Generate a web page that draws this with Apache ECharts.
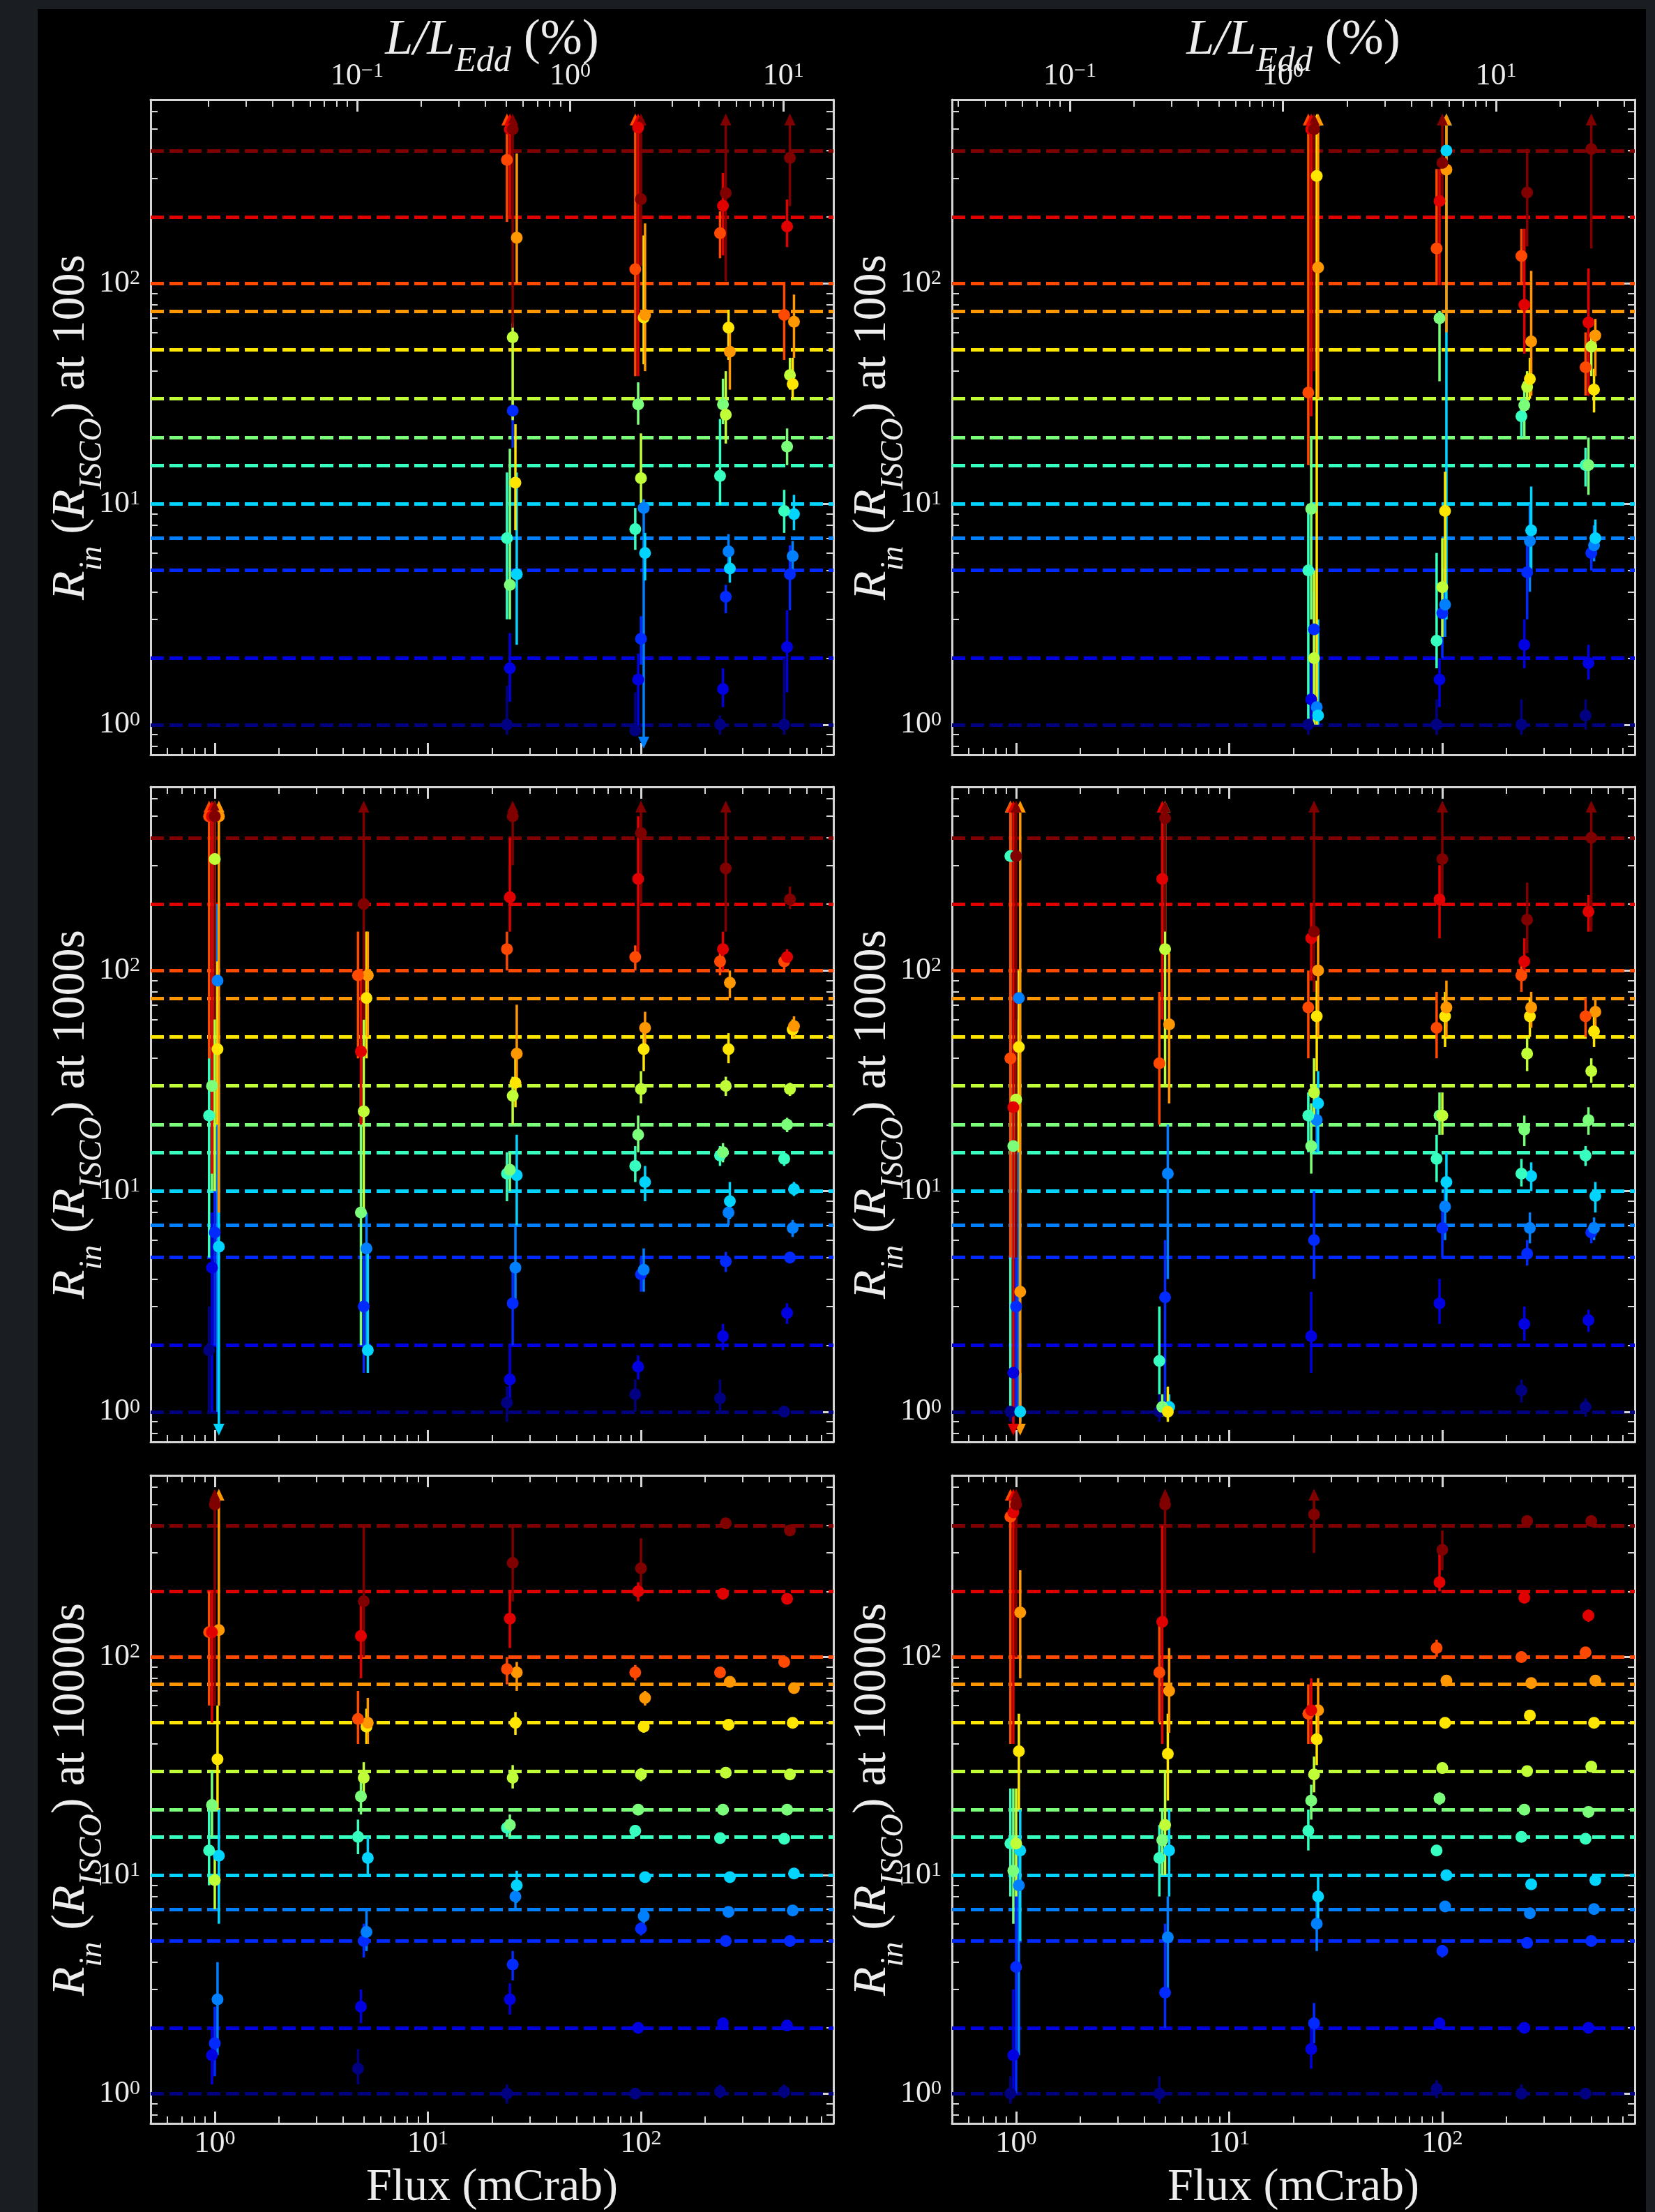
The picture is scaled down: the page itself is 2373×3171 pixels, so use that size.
<!DOCTYPE html>
<html>
<head>
<meta charset="utf-8">
<title>Rin recovery vs flux</title>
<script src="https://cdn.jsdelivr.net/npm/echarts@6/dist/echarts.min.js"></script>
<style>
  html, body { margin: 0; padding: 0; background: #1a1d22; }
  #fig { position: absolute; left: 54px; top: 13px; width: 2306px; height: 3158px; background: #000; }
  #main { position: absolute; left: 0; top: 0; width: 2373px; height: 3171px; }
</style>
</head>
<body>
<div id="fig"></div>
<div id="main"></div>
<script>
// true inner radius of each simulated set (one colour each) and the simulated fluxes
var truths = [1, 2, 5, 7, 10, 15, 20, 30, 50, 75, 100, 200, 400];
var fluxes = [1, 5, 25, 100, 250, 500];          // mCrab
var exposures = ['100s', '1000s', '10000s'];
// small horizontal dodge of the sets so the error bars do not sit on top of each other
var xDodge = [0.94, 0.97, 1.0, 1.03, 1.045];
// L/LEdd (%) per mCrab for the two sources (top axis)
var lEddPerMcrab = [0.02148, 0.05596];

var _ = null;
// rows follow `truths`, columns follow `fluxes`
var rin100L = [
  [_, _, 1.0, 0.94, 1.0, 1.0], [_, _, 1.8, 1.6, 1.45, 2.25], [_, _, 26.5, 2.45, 3.8, 4.8],
  [_, _, _, 9.6, 6.1, 5.8], [_, _, 4.8, 6.0, 5.1, 9.0], [_, _, 7.0, 7.7, 13.4, 9.3],
  [_, _, 4.3, 28.3, 28.3, 18.2], [_, _, 57, 13.1, 25.4, 38.4], [_, _, 12.5, 70, 63, 35],
  [_, _, 161, 72, 49, 67], [_, _, 363, 116, 169, 72], [_, _, 500, 508, 225, 181],
  [_, _, 500, 241, 257, 371]];
var lo100L = [
  [_, _, 0.9, 0.9, 0.9, 0.9], [_, _, 1.27, 0.9, 1.2, 1.4], [_, _, 18, 1.87, 3.2, 3.3],
  [_, _, _, 0.85, 5.3, 5.0], [_, _, 2.3, 4.5, 4.4, 7.6], [_, _, 3.0, 6.2, 9.9, 7.4],
  [_, _, 3.0, 22.9, 23, 15], [_, _, 24, 10.1, 18.8, 33], [_, _, 7.6, 43, 45, 30],
  [_, _, 100, 40, 33, 46], [_, _, 190, 38, 130, 45], [_, _, 196, 38, 134, 146],
  [_, _, 63, 120, 102, 224]];
var hi100L = [
  [_, _, 1.5, 1.4, 1.1, 2.0], [_, _, 2.6, 2.1, 1.8, 3.3], [_, _, 30, 3.1, 4.3, 6.5],
  [_, _, _, 10.5, 7.3, 6.8], [_, _, 13.9, 7.4, 6.1, 11], [_, _, 13.9, 9.6, 24.3, 11.6],
  [_, _, 17.8, 35.6, 37, 22], [_, _, 66, 20.9, 40, 46], [_, _, 23, 165, 76, 46],
  [_, _, 388, 187, 63, 89], [_, _, 540, 540, 212, 101], [_, _, 540, 540, 317, 240],
  [_, _, 540, 540, 540, 540]];

var rin100R = [
  [_, _, 1.0, 1.0, 1.0, 1.1], [_, _, 1.3, 1.6, 2.3, 1.9], [_, _, 2.7, 3.2, 4.9, 6.0],
  [_, _, 1.2, 3.5, 6.8, 6.5], [_, _, 1.1, 400, 7.6, 7.0], [_, _, 5.0, 2.4, 25, 15],
  [_, _, 9.5, 69.5, 28, 15], [_, _, 2.0, 4.2, 34, 51.7], [_, _, 307, 9.3, 36.9, 33],
  [_, _, 118, 328, 54.6, 58], [_, _, 32, 144, 133, 41.7], [_, _, 500, 236, 80, 66.5],
  [_, _, 500, 352, 258, 406]];
var lo100R = [
  [_, _, 0.9, 0.9, 0.9, 0.95], [_, _, 1.0, 1.2, 1.8, 1.6], [_, _, 1.0, 2.0, 3.0, 5.0],
  [_, _, 1.0, 2.5, 4.0, 5.5], [_, _, 1.0, 3.0, 5.0, 6.0], [_, _, 1.0, 1.8, 20, 12],
  [_, _, 3.0, 36, 20, 11], [_, _, 1.0, 2.5, 28, 38], [_, _, 1.0, 4.0, 30, 26],
  [_, _, 30, 60, 31, 38], [_, _, 15, 98, 98, 31], [_, _, 25, 98, 48, 31],
  [_, _, 40, 240, 147, 144]];
var hi100R = [
  [_, _, 1.3, 1.3, 1.3, 1.3], [_, _, 2.0, 2.0, 3.0, 2.3], [_, _, 4.0, 4.5, 7.0, 7.0],
  [_, _, 2.0, 5.0, 10, 8], [_, _, 3.0, 540, 12, 8.5], [_, _, 10, 6, 30, 18],
  [_, _, 20, 75, 36, 20], [_, _, 5, 7, 40, 60], [_, _, 540, 14, 46, 41],
  [_, _, 540, 540, 114, 69], [_, _, 540, 330, 177, 60], [_, _, 540, 330, 177, 117],
  [_, _, 540, 540, 408, 540]];

var rin1000L = [
  [1.9, _, 1.1, 1.2, 1.15, 1.0], [4.5, _, 1.4, 1.6, 2.2, 2.8], [6.5, 3.0, 3.1, 4.2, 4.8, 5.0],
  [90, 5.5, 4.5, 4.4, 8.0, 6.8], [5.6, 1.9, 11.8, 11, 9.0, 10.2], [22, _, 12, 13, 14.5, 14],
  [30, 8, 12.5, 18, 15, 20], [320, 23, 27, 29, 30, 29], [44, 75, 31, 44, 44, 54],
  [500, 95, 42, 55, 88, 56], [500, 95, 125, 115, 110, 110], [500, 43, 215, 260, 125, 115],
  [500, 200, 500, 420, 290, 210]];
var lo1000L = [
  [1.0, _, 0.9, 1.0, 1.0, 0.95], [1.0, _, 1.1, 1.4, 1.9, 2.5], [2.0, 1.5, 2.0, 3.5, 4.3, 4.7],
  [1.0, 2.0, 3.0, 3.5, 7.0, 6.2], [0.85, 1.5, 7.0, 9.0, 7.5, 9.5], [5, _, 9, 11, 13, 13],
  [10, 2, 10, 15, 13.5, 18.5], [10, 8, 20, 25, 27, 27], [20, 40, 24, 35, 38, 49],
  [8, 50, 30, 45, 75, 50], [40, 40, 100, 100, 95, 100], [12, 20, 150, 120, 100, 105],
  [60, 60, 300, 200, 150, 190]];
var hi1000L = [
  [3.0, _, 1.3, 1.4, 1.4, 1.05], [8, _, 2.0, 1.8, 2.5, 3.1], [12, 5, 4.5, 5, 5.3, 5.3],
  [200, 8, 7, 5.5, 9, 7.4], [40, 5.5, 18, 13, 11, 11], [45, _, 15, 16, 16, 15],
  [60, 30, 15, 22, 16.5, 21.5], [540, 60, 33, 35, 33, 31], [110, 150, 40, 55, 52, 60],
  [540, 150, 70, 65, 100, 62], [540, 150, 150, 130, 125, 120], [540, 100, 400, 500, 150, 125],
  [540, 540, 540, 540, 540, 240]];

var rin1000R = [
  [1.0, 1.0, _, _, 1.25, 1.05], [1.5, _, 2.2, 3.1, 2.5, 2.6], [3.0, 3.3, 6.0, 6.8, 5.2, 6.5],
  [75, 12, 21, 8.5, 6.8, 6.8], [1.0, 1.05, 25, 11, 11.7, 9.5], [330, 1.7, 22, 14, 12, 14.5],
  [16, 1.05, 16, 22, 19, 21], [26, 125, 28, 22, 42, 35], [45, 1.0, 62, 62, 62, 53],
  [3.5, 57, 100, 68, 68, 65], [40, 38, 68, 55, 95, 62], [24, 260, 140, 210, 110, 185],
  [330, 490, 150, 320, 170, 400]];
var lo1000R = [
  [0.9, 0.9, _, _, 1.1, 0.95], [0.9, _, 1.5, 2.5, 2.1, 2.3], [1.0, 1.0, 4.0, 5.0, 4.6, 5.8],
  [1.0, 4.0, 15, 6.0, 5.8, 6.0], [0.9, 0.95, 15, 8.0, 10, 8.0], [1.0, 1.2, 15, 11, 10.5, 13],
  [5.0, 0.95, 12, 18, 16, 18], [10, 30, 20, 18, 35, 31], [15, 0.9, 35, 45, 50, 45],
  [0.85, 25, 50, 50, 55, 55], [5, 20, 40, 40, 80, 50], [0.85, 60, 90, 140, 90, 150],
  [5, 150, 80, 200, 120, 150]];
var hi1000R = [
  [1.5, 1.2, _, _, 1.4, 1.15], [3.0, _, 3.5, 4.0, 3.0, 2.9], [10, 6, 10, 9, 6, 7.2],
  [100, 20, 28, 11, 8, 7.6], [1.5, 1.2, 35, 15, 13.5, 11], [540, 3, 28, 18, 14, 16],
  [30, 1.2, 25, 28, 22, 24], [60, 540, 40, 28, 50, 40], [100, 1.3, 90, 80, 75, 62],
  [540, 120, 150, 90, 80, 75], [540, 80, 100, 80, 110, 75], [540, 540, 200, 300, 140, 220],
  [540, 540, 540, 540, 250, 540]];

var rin10000L = [
  [_, 1.3, 1.0, 1.0, 1.02, 1.02], [1.5, 2.5, 2.7, 2.0, 2.1, 2.05], [1.7, 5.0, 3.9, 5.7, 5.0, 5.0],
  [2.7, 5.5, 8.0, 6.5, 6.8, 6.9], [12.3, 12, 9.0, 9.8, 9.8, 10.2], [13, 15, 16.5, 16, 14.8, 14.7],
  [21, 23, 17, 20, 20, 20], [9.5, 28, 28, 29, 29.5, 29], [34, 48, 50, 48, 49, 50],
  [133, 50, 85, 65, 77, 72], [130, 52, 88, 85, 85, 95], [130, 125, 150, 200, 195, 185],
  [500, 180, 270, 255, 410, 380]];
var lo10000L = [
  [_, 1.1, 0.9, 0.95, 0.95, 0.95], [1.1, 2.1, 2.3, 1.9, 2.0, 1.95], [1.2, 4.2, 3.3, 5.3, 4.8, 4.8],
  [1.5, 4.5, 7.0, 6.0, 6.5, 6.6], [6, 10, 7.5, 9.3, 9.5, 9.9], [9, 12.5, 15, 15, 14.3, 14.3],
  [15, 19, 15, 19, 19.5, 19.5], [7, 23, 25, 27, 28.5, 28.3], [20, 40, 44, 45, 47.5, 49],
  [60, 40, 70, 60, 74, 70], [60, 40, 75, 78, 82, 92], [50, 80, 110, 180, 190, 180],
  [60, 100, 180, 200, 400, 370]];
var hi10000L = [
  [_, 1.6, 1.1, 1.05, 1.1, 1.1], [2.0, 3.0, 3.2, 2.1, 2.2, 2.15], [2.5, 6.0, 4.5, 6.1, 5.2, 5.2],
  [4.0, 7.0, 9.0, 7.0, 7.1, 7.2], [20, 15, 10.5, 10.3, 10.1, 10.5], [20, 18, 18, 17, 15.3, 15.1],
  [30, 27, 19, 21, 20.5, 20.5], [13, 33, 32, 31, 30.5, 29.7], [60, 58, 56, 51, 50.5, 51],
  [540, 65, 95, 70, 80, 74], [200, 70, 100, 92, 88, 98], [200, 180, 200, 220, 200, 190],
  [540, 400, 400, 350, 420, 390]];

var rin10000R = [
  [1.0, 1.0, _, 1.05, 1.0, 1.0], [1.5, _, 1.6, 2.1, 2.0, 2.0], [3.8, 2.9, 2.1, 4.5, 4.9, 5.0],
  [9.0, 5.2, 6.0, 7.2, 6.7, 7.0], [13, 13, 8.0, 10, 9.1, 9.5], [14, 12, 16, 13, 15, 14.7],
  [10.5, 14.5, 22, 22.5, 20, 19.5], [14, 17, 29, 31, 30, 31.5], [37, 36, 42, 50, 54, 50],
  [160, 70, 57, 78, 76, 78], [440, 85, 55, 110, 100, 105], [460, 145, 57, 220, 187, 155],
  [500, 500, 450, 310, 420, 420]];
var lo10000R = [
  [0.9, 0.9, _, 0.95, 0.95, 0.95], [1.0, _, 1.3, 2.0, 1.95, 1.95], [1.0, 2.0, 1.7, 4.2, 4.8, 4.9],
  [1.5, 3.0, 4.5, 6.8, 6.5, 6.8], [5, 8, 6, 9.5, 8.8, 9.3], [8, 8, 13, 12.5, 14.7, 14.5],
  [6, 10, 18, 21, 19.7, 19.2], [8, 10, 24, 30, 29.6, 31], [20, 22, 32, 48, 53, 49.5],
  [80, 45, 40, 75, 75, 77], [40, 50, 40, 100, 98, 102], [40, 40, 40, 200, 182, 145],
  [100, 150, 300, 250, 410, 410]];
var hi10000R = [
  [1.2, 1.2, _, 1.15, 1.1, 1.05], [3.0, _, 2.0, 2.2, 2.05, 2.05], [10, 6, 2.6, 4.8, 5.0, 5.1],
  [15, 8, 8, 7.6, 6.9, 7.2], [20, 20, 10, 10.5, 9.4, 9.7], [25, 17, 20, 13.5, 15.3, 14.9],
  [25, 20, 26, 24, 20.3, 19.8], [25, 30, 35, 32, 30.4, 32], [55, 55, 55, 52, 55, 50.5],
  [250, 110, 80, 81, 77, 79], [540, 150, 75, 120, 102, 108], [540, 400, 80, 320, 192, 165],
  [540, 540, 540, 380, 430, 430]];

// tick labels
var xMajor = [1, 10, 100];
var yMajor = [1, 10, 100];
var lMajor = [0.1, 1, 10];

var XMIN = 0.5, XMAX = 800, YMIN = 0.73, YMAX = 680;
var FONT = '"Liberation Serif", "DejaVu Serif", serif';
var FRAME = '#d6d6d6';
var TXT = '#ededed';

var panels = [
  { row: 0, col: 0, val: rin100L, lo: lo100L, hi: hi100L },
  { row: 0, col: 1, val: rin100R, lo: lo100R, hi: hi100R },
  { row: 1, col: 0, val: rin1000L, lo: lo1000L, hi: hi1000L },
  { row: 1, col: 1, val: rin1000R, lo: lo1000R, hi: hi1000R },
  { row: 2, col: 0, val: rin10000L, lo: lo10000L, hi: hi10000L },
  { row: 2, col: 1, val: rin10000R, lo: lo10000R, hi: hi10000R }
];
var gridLeft = [216, 1365], gridTop = [143, 1128, 2115], GW = 979, GH = 939;

// matplotlib "jet"
function jet(t) {
  function seg(p) {
    for (var k = 1; k < p.length; k++) {
      if (t <= p[k][0]) return p[k - 1][1] + (p[k][1] - p[k - 1][1]) * (t - p[k - 1][0]) / (p[k][0] - p[k - 1][0]);
    }
    return p[p.length - 1][1];
  }
  var r = seg([[0, 0], [0.35, 0], [0.66, 1], [0.89, 1], [1, 0.5]]);
  var g = seg([[0, 0], [0.125, 0], [0.375, 1], [0.64, 1], [0.91, 0], [1, 0]]);
  var b = seg([[0, 0.5], [0.11, 1], [0.34, 1], [0.65, 0], [1, 0]]);
  return 'rgb(' + Math.round(r * 255) + ',' + Math.round(g * 255) + ',' + Math.round(b * 255) + ')';
}

function minorTicks(lo, hi) {
  var out = [];
  for (var e = -3; e <= 3; e++) {
    for (var k = 2; k <= 9; k++) {
      var v = +(k * Math.pow(10, e)).toPrecision(6);
      if (v > lo && v < hi) out.push(v);
    }
  }
  return out;
}

function powLabel(v) {
  var e = Math.round(Math.log(v) / Math.LN10);
  return '{b|10}{s|' + (e < 0 ? '\u2212' + (-e) : e) + '}';
}
var tickRich = {
  b: { fontFamily: FONT, fontSize: 44, lineHeight: 44, color: TXT, verticalAlign: 'bottom' },
  s: { fontFamily: FONT, fontSize: 30, lineHeight: 20, color: TXT, verticalAlign: 'top' }
};
// big text sits at the top of the line, the subscript at the bottom of a slightly taller box
function nameRich(big, small) {
  return {
    i: { fontFamily: FONT, fontStyle: 'italic', fontSize: big, lineHeight: big, color: TXT, verticalAlign: 'top' },
    r: { fontFamily: FONT, fontSize: big, lineHeight: big, color: TXT, verticalAlign: 'top' },
    s: { fontFamily: FONT, fontStyle: 'italic', fontSize: small, lineHeight: big + 20, color: TXT, verticalAlign: 'bottom' }
  };
}

function logAxis(gi, pos, min, max, ticks, major) {
  return {
    type: 'log', logBase: 10, gridIndex: gi, position: pos, min: min, max: max,
    axisLine: { show: major, onZero: false, lineStyle: { color: FRAME, width: 3 } },
    axisTick: { show: true, inside: true, customValues: ticks, length: major ? 17 : 10,
                lineStyle: { color: FRAME, width: major ? 3 : 2 } },
    axisLabel: { show: false },
    splitLine: { show: false },
    minorTick: { show: false },
    axisPointer: { show: false },
    silent: true
  };
}
function withLabels(ax, vals, margin) {
  ax.axisLabel = { show: true, customValues: vals, margin: margin, formatter: powLabel, rich: tickRich };
  return ax;
}
function withName(ax, text, rich, gap, rotate, size) {
  ax.name = text;
  ax.nameLocation = 'middle';
  ax.nameGap = gap;
  ax.nameRotate = rotate;
  ax.nameMoveOverlap = false;
  ax.nameTextStyle = { color: TXT, fontFamily: FONT, fontSize: size, rich: rich };
  return ax;
}

var option = { animation: false, backgroundColor: 'transparent', grid: [], xAxis: [], yAxis: [], series: [] };
var xMinor = minorTicks(XMIN, XMAX), yMinor = minorTicks(YMIN, YMAX);

panels.forEach(function (p, gi) {
  option.grid.push({ left: gridLeft[p.col], top: gridTop[p.row], width: GW, height: GH });

  // x: bottom major / minor, top major / minor
  var bx = logAxis(gi, 'bottom', XMIN, XMAX, xMajor, true);
  if (p.row === 2) {
    withLabels(bx, xMajor, 7);
    withName(bx, 'Flux (mCrab)', {}, 60, 0, 66);
  }
  option.xAxis.push(bx);
  option.xAxis.push(logAxis(gi, 'bottom', XMIN, XMAX, xMinor, false));
  if (p.row === 0) {
    var k = lEddPerMcrab[p.col];
    var lmin = XMIN * k, lmax = XMAX * k;
    var tx = withLabels(logAxis(gi, 'top', lmin, lmax, lMajor, true), lMajor, 12);
    withName(tx, '{i|L/L}{s|Edd}{r| (%)}', nameRich(72, 50), 29, 0, 72);
    option.xAxis.push(tx);
    option.xAxis.push(logAxis(gi, 'top', lmin, lmax, minorTicks(lmin, lmax), false));
  } else {
    option.xAxis.push(logAxis(gi, 'top', XMIN, XMAX, xMajor, true));
    option.xAxis.push(logAxis(gi, 'top', XMIN, XMAX, xMinor, false));
  }

  // y: left major / minor, right major / minor
  var ly = withLabels(logAxis(gi, 'left', YMIN, YMAX, yMajor, true), yMajor, 15);
  withName(ly, '{i|R}{s|in}{r| (}{i|R}{s|ISCO}{r|) at ' + exposures[p.row] + '}', nameRich(68, 46), 60, 90, 68);
  option.yAxis.push(ly);
  option.yAxis.push(logAxis(gi, 'left', YMIN, YMAX, yMinor, false));
  option.yAxis.push(logAxis(gi, 'right', YMIN, YMAX, yMajor, true));
  option.yAxis.push(logAxis(gi, 'right', YMIN, YMAX, yMinor, false));

  truths.forEach(function (tv, i) {
    var col = jet(i / (truths.length - 1));
    var pts = [];
    fluxes.forEach(function (f, j) {
      if (p.val[i][j] == null) return;
      pts.push([f * xDodge[i % 5], p.val[i][j], p.lo[i][j], p.hi[i][j]]);
    });
    // error bars (+ limit arrows)
    option.series.push({
      type: 'custom', xAxisIndex: gi * 4, yAxisIndex: gi * 4, z: 2, silent: true,
      encode: { x: 0, y: [1, 2, 3] },
      data: pts,
      renderItem: function (params, api) {
        var x = api.value(0), lo = api.value(2), hi = api.value(3);
        var a = api.coord([x, lo]), b = api.coord([x, hi]);
        var kids = [{ type: 'line', shape: { x1: a[0], y1: a[1], x2: b[0], y2: b[1] },
                      style: { stroke: col, lineWidth: 3.5 } }];
        if (hi >= 530) kids.push({ type: 'polygon', shape: { points: [[b[0], b[1] - 12], [b[0] - 8, b[1] + 5], [b[0] + 8, b[1] + 5]] }, style: { fill: col } });
        if (lo < 0.88) kids.push({ type: 'polygon', shape: { points: [[a[0], a[1] + 12], [a[0] - 8, a[1] - 5], [a[0] + 8, a[1] - 5]] }, style: { fill: col } });
        return { type: 'group', children: kids };
      }
    });
    // best fit points + the true value as a dashed line
    option.series.push({
      type: 'scatter', xAxisIndex: gi * 4, yAxisIndex: gi * 4, z: 3, silent: true,
      symbol: 'circle', symbolSize: 17,
      itemStyle: { color: col, opacity: 1 },
      data: pts.map(function (d) { return [d[0], d[1]]; }),
      markLine: {
        silent: true, z: 1, symbol: ['none', 'none'], label: { show: false }, animation: false,
        lineStyle: { color: col, width: 5, type: [19, 8], opacity: 1 },
        emphasis: { disabled: true },
        data: [{ yAxis: tv }]
      }
    });
  });
});

var chart = echarts.init(document.getElementById('main'), null, { renderer: 'canvas' });
chart.setOption(option);
</script>
</body>
</html>
